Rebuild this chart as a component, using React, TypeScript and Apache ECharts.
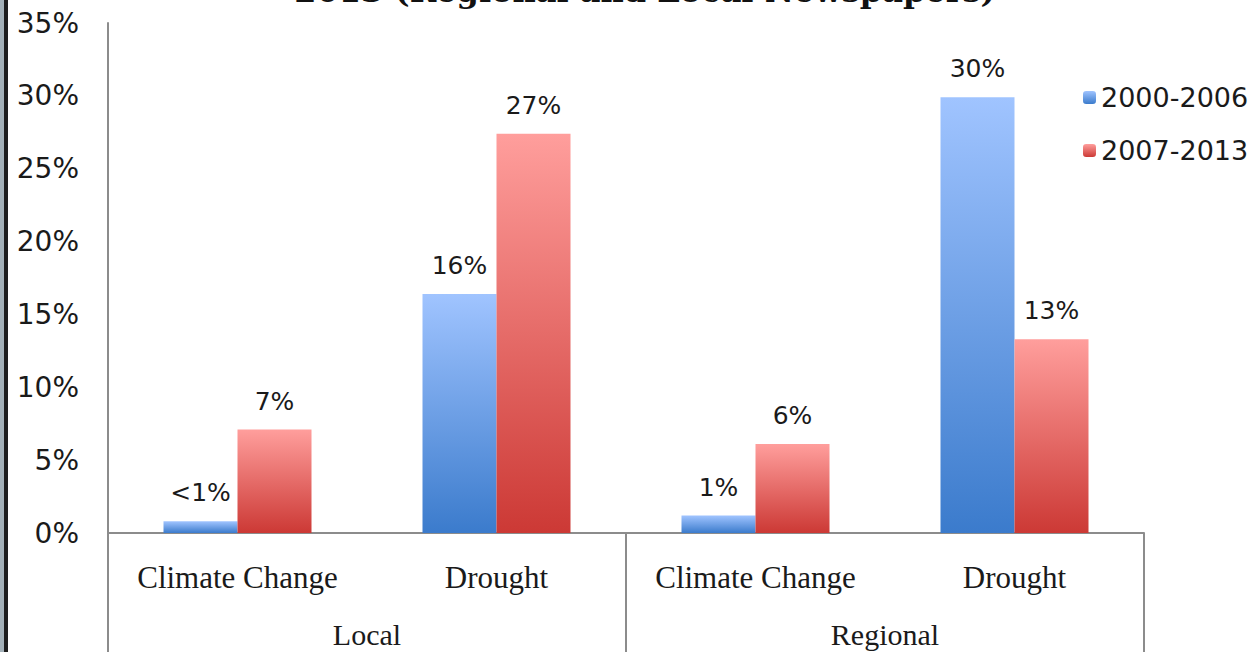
import React, { useEffect, useRef } from "react";
import * as echarts from "echarts";

// Share of newspaper coverage by topic, split by period and paper type
const groups = ["Local", "Regional"];
const categories = ["Climate Change", "Drought", "Climate Change", "Drought"];
const seriesNames = ["2000-2006", "2007-2013"];
const early = [0.8, 16.4, 1.2, 29.9];
const late = [7.1, 27.4, 6.1, 13.3];
const yTicks = { min: 0, max: 35, interval: 5 };

const titleText = "2013 (Regional and Local Newspapers)";

const grad = (top: string, bottom: string) =>
  new echarts.graphic.LinearGradient(0, 0, 0, 1, [
    { offset: 0, color: top },
    { offset: 1, color: bottom },
  ]);

const pctLabel = (v: number) => (v < 1 ? "<1%" : `${Math.round(v)}%`);

export default function App() {
  const ref = useRef<HTMLDivElement>(null);

  useEffect(() => {
    if (!ref.current) return;
    const chart = echarts.init(ref.current, undefined, { renderer: "svg" });
    const axisGray = "#8c8c8c";
    const sans = "DejaVu Sans";
    const serif = "Liberation Serif";

    const barLabel = {
      show: true,
      position: "top" as const,
      distance: 16,
      fontFamily: sans,
      fontSize: 25,
      color: "#1a1a1a",
      formatter: (p: any) => pctLabel(p.value),
    };

    chart.setOption({
      animation: false,
      backgroundColor: "#ffffff",
      grid: { left: 108, right: 112, top: 23, bottom: 119, containLabel: false },
      legend: {
        orient: "vertical",
        left: 1078,
        top: 79,
        itemWidth: 13,
        itemHeight: 13,
        itemGap: 26,
        textStyle: { fontFamily: sans, fontSize: 27, color: "#1a1a1a" },
        data: seriesNames,
      },
      xAxis: [
        {
          type: "category",
          data: categories,
          position: "bottom",
          axisLine: { show: true, lineStyle: { color: axisGray, width: 2 } },
          axisTick: { show: false },
          axisLabel: {
            margin: 29,
            fontFamily: serif,
            fontSize: 31,
            color: "#1a1a1a",
            interval: 0,
          },
        },
        {
          type: "category",
          data: groups,
          position: "bottom",
          axisLine: { show: false },
          axisTick: {
            show: true,
            alignWithLabel: false,
            length: 120,
            lineStyle: { color: axisGray, width: 2 },
          },
          axisLabel: {
            margin: 86,
            fontFamily: serif,
            fontSize: 30,
            color: "#1a1a1a",
          },
        },
      ],
      yAxis: {
        type: "value",
        min: yTicks.min,
        max: yTicks.max,
        interval: yTicks.interval,
        axisLine: { show: true, lineStyle: { color: axisGray, width: 2 } },
        axisTick: { show: false },
        splitLine: { show: false },
        axisLabel: {
          formatter: "{value}%",
          margin: 29,
          fontFamily: sans,
          fontSize: 28,
          color: "#1a1a1a",
        },
      },
      series: [
        {
          name: seriesNames[0],
          type: "bar",
          xAxisIndex: 0,
          data: early,
          barWidth: 74,
          barGap: "0%",
          itemStyle: { color: grad("#a0c4ff", "#3b7bcc") },
          label: barLabel,
        },
        {
          name: seriesNames[1],
          type: "bar",
          xAxisIndex: 0,
          data: late,
          barWidth: 74,
          barGap: "0%",
          itemStyle: { color: grad("#ff9e9c", "#cc3935") },
          label: barLabel,
        },
      ],
      graphic: [
        { type: "rect", left: 0, top: 0, shape: { width: 4, height: 652 }, style: { fill: "#a4b1b9" } },
        { type: "rect", left: 4, top: 0, shape: { width: 4, height: 652 }, style: { fill: "#1e1e1e" } },
        {
          type: "text",
          x: 645,
          y: -25,
          style: {
            text: titleText,
            align: "center",
            verticalAlign: "top",
            fontFamily: "DejaVu Serif",
            fontWeight: "bold",
            fontSize: 32,
            fill: "#111111",
          },
        },
      ],
    });

    return () => chart.dispose();
  }, []);

  return (
    <div
      ref={ref}
      style={{ position: "fixed", left: 0, top: 0, width: 1256, height: 652 }}
    />
  );
}
